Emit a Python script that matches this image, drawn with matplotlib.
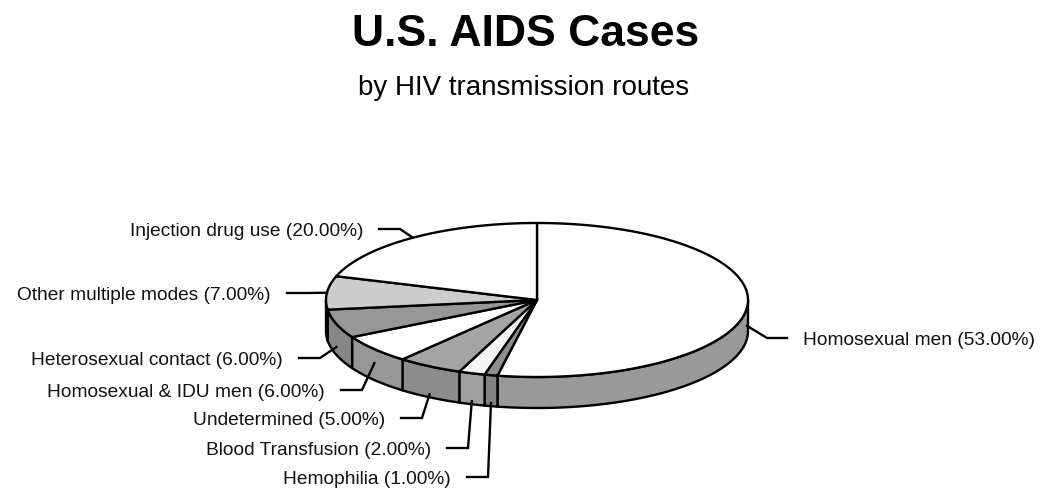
import numpy as np
import matplotlib
matplotlib.use("Agg")
import matplotlib.pyplot as plt
from matplotlib.patches import Polygon

plt.rcParams['font.family'] = ['Liberation Sans', 'DejaVu Sans']

# Datos (en orden horario desde las 12)
routes = ["Homosexual men", "Hemophilia", "Blood Transfusion", "Undetermined",
          "Homosexual & IDU men", "Heterosexual contact", "Other multiple modes",
          "Injection drug use"]
shares = [53.0, 1.0, 2.0, 5.0, 6.0, 6.0, 7.0, 20.0]

# Estilo de cada porción
top_colors = ["#ffffff", "#8e8e8e", "#f4f4f4", "#a4a4a4",
              "#ffffff", "#979797", "#cdcdcd", "#ffffff"]
side_colors = ["#999999", "#828282", "#a0a0a0", "#8c8c8c",
               "#979797", "#878787", "#a4a4a4", "#9c9c9c"]

# Geometría de la torta (pixeles)
W, H = 1049, 494
cx, cy, a, b, depth = 537, 300, 211, 77, 31

# Etiquetas: y de la línea guía, x del codo, caída sobre el lateral
lab_y = [338, 477, 448, 418, 390, 358, 293, 229]
elbow_x = [767, 488, 468, 422, 362, 320, 308, 400]
drop = [0.6, 0.9, 0.9, 0.9, 0.45, 0.75, 0.0, 0.0]


def pt(t, dy=0.0):
    r = np.radians(t)
    return cx + a * np.cos(r), cy - b * np.sin(r) + dy


fig = plt.figure(figsize=(W / 100, H / 100), dpi=100)
ax = fig.add_axes([0, 0, 1, 1])
ax.set_xlim(0, W)
ax.set_ylim(H, 0)
ax.axis("off")

total = sum(shares)
bounds = 90 - 360 * np.concatenate([[0], np.cumsum(shares)]) / total

# Laterales visibles (frente: ángulos entre -180 y 0)
for i in range(len(shares)):
    t0, t1 = bounds[i], bounds[i + 1]
    hi, lo = min(t0, 0), max(t1, -180)
    if hi <= lo:
        continue
    ts = np.linspace(hi, lo, 80)
    top = [pt(t) for t in ts]
    bot = [pt(t, depth) for t in ts[::-1]]
    ax.add_patch(Polygon(top + bot, closed=True, fc=side_colors[i],
                         ec="black", lw=1.7, joinstyle="round"))

# Caras superiores
for i in range(len(shares)):
    ts = np.linspace(bounds[i], bounds[i + 1], 120)
    verts = [(cx, cy)] + [pt(t) for t in ts]
    ax.add_patch(Polygon(verts, closed=True, fc=top_colors[i],
                         ec="black", lw=1.7, joinstyle="round"))

# Líneas guía y textos
for i, name in enumerate(routes):
    mid = (bounds[i] + bounds[i + 1]) / 2
    sx, sy = pt(mid, depth * drop[i])
    ly = lab_y[i]
    ex = elbow_x[i]
    right = sx > cx
    lx = ex + 20 if right else ex - 21
    ax.plot([sx, ex, lx], [sy, ly, ly], color="black", lw=1.7,
            solid_joinstyle="miter")
    tx = lx + 16 if right else lx - 16
    ax.text(tx, ly + 2, f"{name} ({shares[i]:.2f}%)", fontsize=13.8,
            ha="left" if right else "right", va="center", color="#111111")

ax.text(526, 46, "U.S. AIDS Cases", fontsize=32, fontweight="bold",
        ha="center", va="baseline")
ax.text(524, 95, "by HIV transmission routes", fontsize=20,
        ha="center", va="baseline")

fig.savefig("out.png", dpi=100)
